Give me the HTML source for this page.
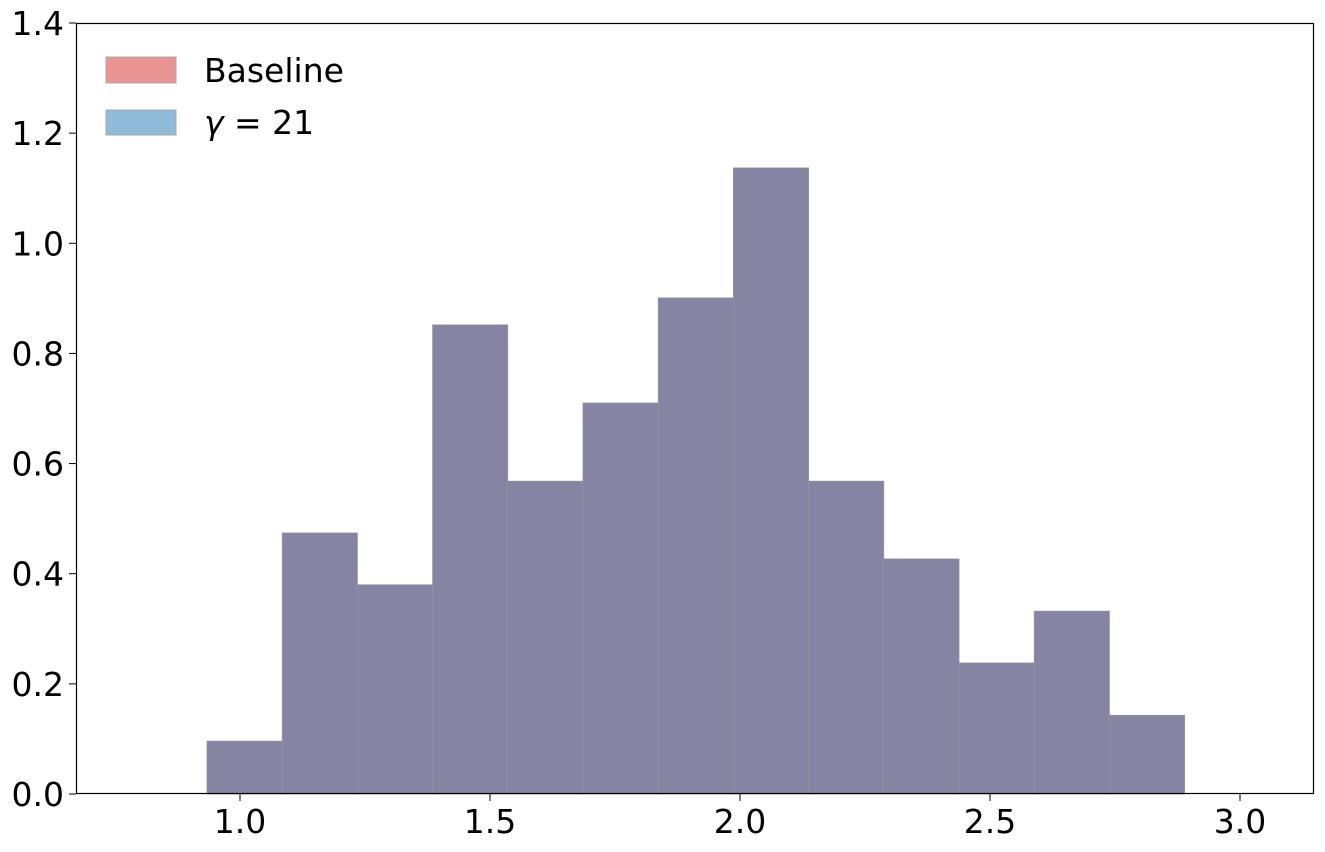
<!DOCTYPE html>
<html><head><meta charset="utf-8"><style>
body{margin:0;background:#fff;}
svg text{font-family:"DejaVu Sans","Liberation Sans",sans-serif;}
</style></head><body>
<svg id="chart" width="1325" height="847">
<rect x="0" y="0" width="1325" height="847" fill="#fff"/>
<g id="bars"></g>
<g id="axes"></g>
<g>
<rect x="106" y="57" width="70" height="26" fill="#d62728" fill-opacity="0.5" stroke="#aaa" stroke-width="1"/>
<text x="204" y="82" font-size="33">Baseline</text>
<rect x="106" y="110" width="70" height="25" fill="#1f77b4" fill-opacity="0.5" stroke="#aaa" stroke-width="1"/>
<text x="204" y="134" font-size="33"><tspan font-style="italic">γ</tspan> = 21</text>
</g>
</svg>
<script>
const binEdges=[0.934,1.0844,1.2348,1.3852,1.5356,1.686,1.8364,1.9868,2.1372,2.2876,2.438,2.5884,2.7388,2.8892];
const baseline=[0.096,0.474,0.380,0.852,0.568,0.710,0.901,1.137,0.568,0.427,0.238,0.332,0.143];
const gamma21=[0.096,0.474,0.380,0.852,0.568,0.710,0.901,1.137,0.568,0.427,0.238,0.332,0.143];
const xTicks=[1.0,1.5,2.0,2.5,3.0];
const yTicks=[0.0,0.2,0.4,0.6,0.8,1.0,1.2,1.4];
const L=76,R=1314,T=23,B=794;
const xMin=0.672,xMax=3.148,yMax=1.4;
const sx=v=>L+(v-xMin)/(xMax-xMin)*(R-L);
const sy=v=>B-v/yMax*(B-T);
const NS="http://www.w3.org/2000/svg";
const bars=document.getElementById('bars');
function drawSeries(vals,color,name){
 vals.forEach((v,i)=>{
  const r=document.createElementNS(NS,'rect');
  const x0=sx(binEdges[i]),x1=sx(binEdges[i+1]);
  r.setAttribute('x',x0);r.setAttribute('width',x1-x0);
  r.setAttribute('y',sy(v));r.setAttribute('height',B-sy(v));
  r.setAttribute('fill',color);r.setAttribute('fill-opacity','0.5');
  r.setAttribute('stroke','#999');r.setAttribute('stroke-width','0.6');
  
  
  bars.appendChild(r);
 });
}
drawSeries(baseline,'#d62728','baseline');
drawSeries(gamma21,'#1f77b4','gamma');
const ax=document.getElementById('axes');
const frame=document.createElementNS(NS,'rect');
frame.setAttribute('x',L+0.5);frame.setAttribute('y',T+0.5);frame.setAttribute('width',R-L-1);frame.setAttribute('height',B-T-1);
frame.setAttribute('fill','none');frame.setAttribute('stroke','#000');frame.setAttribute('stroke-width','1.2');


ax.appendChild(frame);
xTicks.forEach(v=>{
 const l=document.createElementNS(NS,'line');
 l.setAttribute('x1',sx(v));l.setAttribute('x2',sx(v));l.setAttribute('y1',B);l.setAttribute('y2',B+7);l.setAttribute('stroke','#000');
 
 
 ax.appendChild(l);
 const t=document.createElementNS(NS,'text');
 t.setAttribute('x',sx(v));t.setAttribute('y',833);t.setAttribute('font-size','33');t.setAttribute('text-anchor','middle');
 t.textContent=v.toFixed(1);
 
 
 ax.appendChild(t);
});
yTicks.forEach(v=>{
 const l=document.createElementNS(NS,'line');
 l.setAttribute('x1',L-7);l.setAttribute('x2',L);l.setAttribute('y1',sy(v));l.setAttribute('y2',sy(v));l.setAttribute('stroke','#000');
 
 
 ax.appendChild(l);
 const t=document.createElementNS(NS,'text');
 t.setAttribute('x',L-12);t.setAttribute('y',sy(v)+12);t.setAttribute('font-size','33');t.setAttribute('text-anchor','end');
 t.textContent=v.toFixed(1);
 
 
 ax.appendChild(t);
});
</script>
</body></html>
